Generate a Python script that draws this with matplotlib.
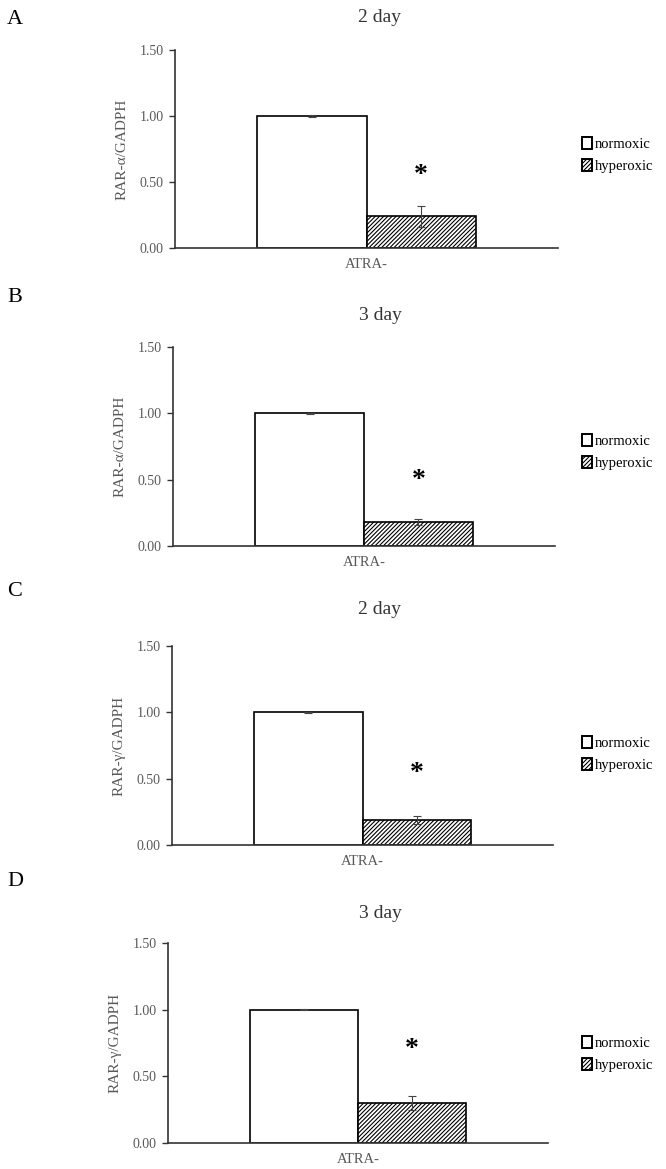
import matplotlib
matplotlib.use('Agg')
import matplotlib.pyplot as plt
from matplotlib.patches import Patch

plt.rcParams['font.family'] = ['Liberation Serif', 'DejaVu Serif']
plt.rcParams['hatch.linewidth'] = 0.8

# data
panels = ['A', 'B', 'C', 'D']
titles = ['2 day', '3 day', '2 day', '3 day']
ylabels = ['RAR-\u03b1/GADPH', 'RAR-\u03b1/GADPH', 'RAR-\u03b3/GADPH', 'RAR-\u03b3/GADPH']
groups = ['normoxic', 'hyperoxic']
category = 'ATRA-'
normoxic = [1.00, 1.00, 1.00, 1.00]
normoxic_err = [0.004, 0.004, 0.004, 0.004]
hyperoxic = [0.24, 0.18, 0.19, 0.30]
hyperoxic_err = [0.08, 0.025, 0.03, 0.05]
star_y = [0.55, 0.49, 0.54, 0.70]
yticks = [0.0, 0.5, 1.0, 1.5]

# axes boxes in pixels: left, right, top, bottom
W, H = 666, 1169
boxes = [(175, 558, 50, 248), (173, 555, 347, 546),
         (172, 553, 646, 845), (168, 548, 943, 1143)]
letter_y = [19, 298, 591, 882]
title_y = [18, 315, 610, 913]
legend_y = [155, 452, 754, 1054]

fig = plt.figure(figsize=(W / 100, H / 100), dpi=100)
grey = '#595959'
bw = 0.285

for i in range(4):
    l, r, t, b = boxes[i]
    ax = fig.add_axes([l / W, 1 - b / H, (r - l) / W, (b - t) / H])
    ax.bar(-bw / 2, normoxic[i], bw, yerr=normoxic_err[i], color='white',
           edgecolor='black', linewidth=1.2, capsize=3,
           error_kw=dict(elinewidth=0.8, capthick=0.8, ecolor='#444444'))
    ax.bar(bw / 2, hyperoxic[i], bw, yerr=hyperoxic_err[i], color='white',
           edgecolor='black', hatch='////////', linewidth=1.2, capsize=3,
           error_kw=dict(elinewidth=0.8, capthick=0.8, ecolor='#444444'))
    ax.text(bw / 2, star_y[i], '*', ha='center', va='center', fontsize=20,
            fontweight='bold', color='black')
    ax.set_xlim(-0.5, 0.5)
    ax.set_ylim(0, 1.5)
    ax.set_yticks(yticks)
    ax.set_yticklabels(['%.2f' % v for v in yticks], color=grey, fontsize=10)
    ax.set_xticks([0])
    ax.set_xticklabels([category], color=grey, fontsize=10.5)
    ax.tick_params(axis='x', length=0, pad=7)
    ax.tick_params(axis='y', length=4, width=1, color='#333333', pad=4)
    for s in ['top', 'right']:
        ax.spines[s].set_visible(False)
    for s in ['left', 'bottom']:
        ax.spines[s].set_color('#333333')
        ax.spines[s].set_linewidth(1.2)
    ax.set_ylabel(ylabels[i], color=grey, fontsize=11, labelpad=8)

    fig.text(7 / W, 1 - letter_y[i] / H, panels[i], fontsize=16,
             va='center', ha='left')
    fig.text(380 / W, 1 - title_y[i] / H, titles[i], fontsize=14,
             va='center', ha='center', color='#333333')

    handles = [Patch(facecolor='white', edgecolor='black', linewidth=1.4),
               Patch(facecolor='white', edgecolor='black', hatch='////////',
                     linewidth=1.4)]
    fig.legend(handles, groups, loc='center left',
               bbox_to_anchor=(582 / W, 1 - legend_y[i] / H), frameon=False,
               fontsize=10.5, handlelength=0.7, handleheight=0.9,
               handletextpad=0.2, labelspacing=0.5, borderpad=0,
               borderaxespad=0)

fig.savefig('out.png', dpi=100)
